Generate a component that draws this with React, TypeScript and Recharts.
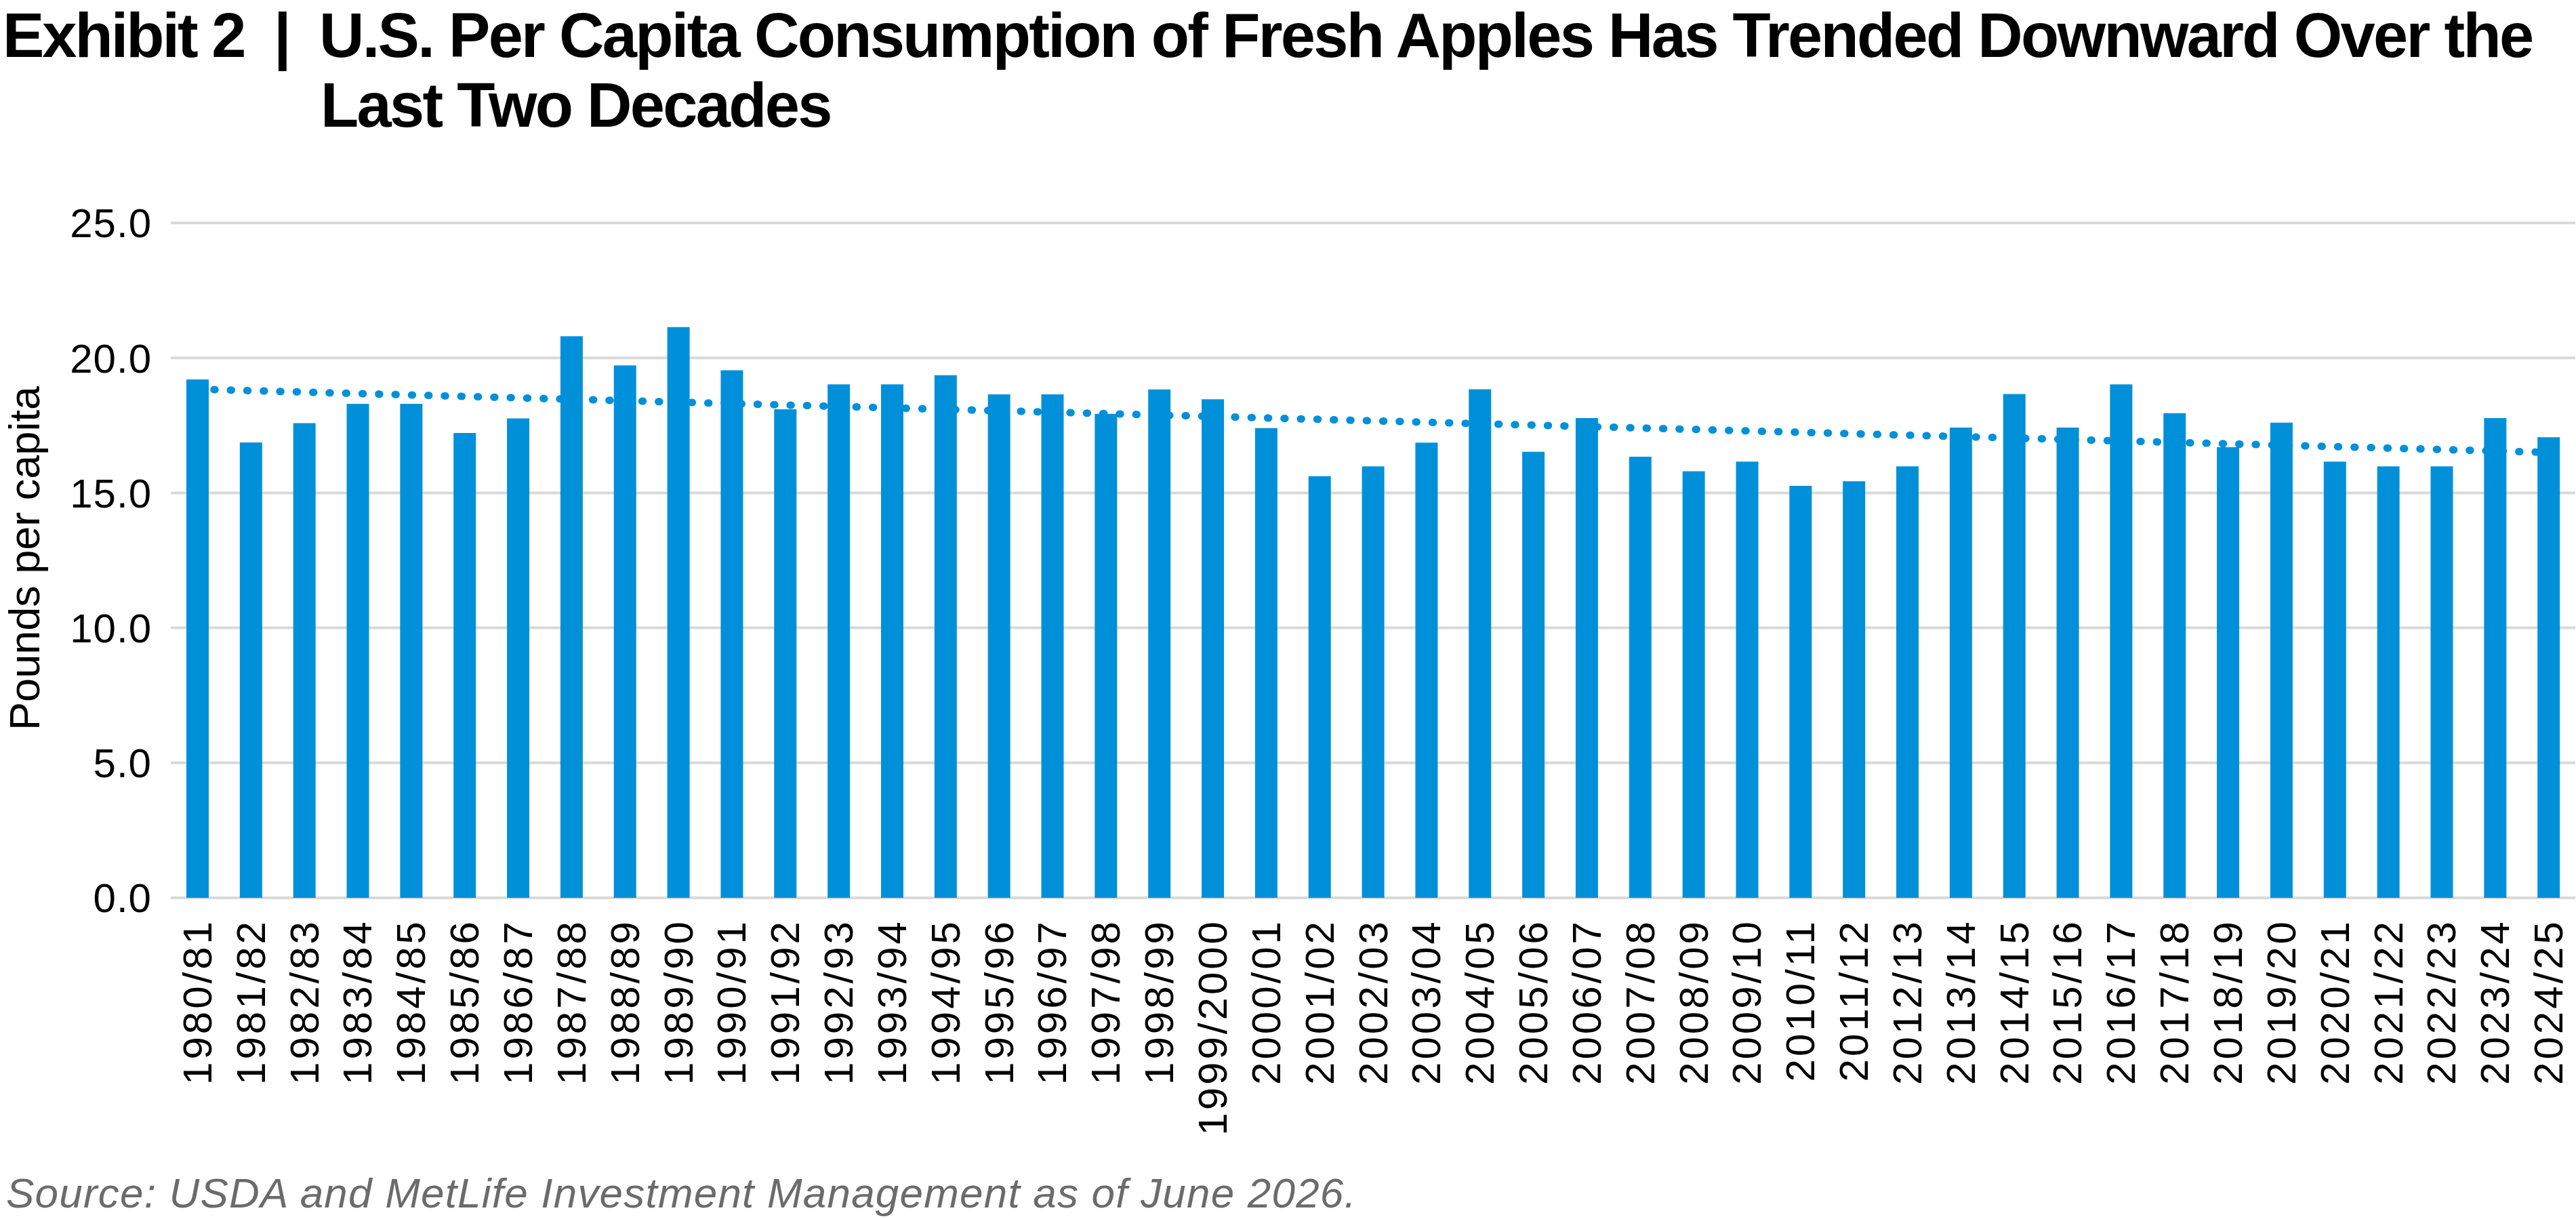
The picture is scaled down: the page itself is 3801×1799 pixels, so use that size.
import React from 'react';
import { BarChart, Bar, XAxis, YAxis, CartesianGrid, ReferenceLine } from 'recharts';

const FONT = '"Liberation Sans", Arial, Helvetica, sans-serif';

const categories = [
  '1980/81', '1981/82', '1982/83', '1983/84', '1984/85', '1985/86', '1986/87', '1987/88', '1988/89', '1989/90',
  '1990/91', '1991/92', '1992/93', '1993/94', '1994/95', '1995/96', '1996/97', '1997/98', '1998/99', '1999/2000',
  '2000/01', '2001/02', '2002/03', '2003/04', '2004/05', '2005/06', '2006/07', '2007/08', '2008/09', '2009/10',
  '2010/11', '2011/12', '2012/13', '2013/14', '2014/15', '2015/16', '2016/17', '2017/18', '2018/19', '2019/20',
  '2020/21', '2021/22', '2022/23', '2023/24', '2024/25',
];

const poundsPerCapita = [
  19.2, 16.87, 17.58, 18.3, 18.3, 17.22, 17.76, 20.8, 19.72, 21.14,
  19.54, 18.1, 19.02, 19.02, 19.36, 18.65, 18.65, 17.93, 18.83, 18.47,
  17.4, 15.62, 15.98, 16.86, 18.84, 16.52, 17.77, 16.34, 15.8, 16.16,
  15.26, 15.43, 15.98, 17.42, 18.66, 17.42, 19.02, 17.95, 16.69, 17.6,
  16.16, 15.98, 15.98, 17.77, 17.06,
];

// Linear trend: value at the first and last category
const trendStart = 18.84;
const trendEnd = 16.5;

const yTicks = [0, 5, 10, 15, 20, 25];

const data = categories.map((c, i) => ({ season: c, value: poundsPerCapita[i] }));

const XTick = (props: any) => {
  const { x, y, payload } = props;
  const ty = y + 31;
  return (
    <text
      x={x}
      y={ty}
      transform={`rotate(-90, ${x}, ${ty})`}
      textAnchor="end"
      dominantBaseline="central"
      fontSize={60}
      letterSpacing={4}
      fill="#000"
      fontFamily={FONT}
    >
      {payload.value}
    </text>
  );
};

const titleStyle: React.CSSProperties = {
  position: 'absolute',
  fontSize: 92,
  lineHeight: '103px',
  fontWeight: 700,
  whiteSpace: 'nowrap',
};

export default function App() {
  return (
    <div
      style={{
        position: 'absolute',
        left: 0,
        top: 0,
        width: 3801,
        height: 1799,
        background: '#fff',
        fontFamily: FONT,
        color: '#000',
        overflow: 'hidden',
      }}
    >
      <div style={{ position: 'absolute', left: 0, top: 0 }}>
        <BarChart
          width={3801}
          height={1799}
          data={data}
          margin={{ top: 329, right: 1, bottom: 174, left: 0 }}
        >
          <CartesianGrid vertical={false} stroke="#D9D9D9" strokeWidth={4} />
          <XAxis
            dataKey="season"
            interval={0}
            axisLine={false}
            tickLine={false}
            tickSize={0}
            tickMargin={0}
            height={300}
            tick={<XTick />}
          />
          <YAxis
            domain={[0, 25]}
            ticks={yTicks}
            width={252}
            axisLine={false}
            tickLine={false}
            tickSize={0}
            tickMargin={28}
            tickFormatter={(v: number) => v.toFixed(1)}
            tick={{ fontSize: 60, fill: '#000', fontFamily: FONT, letterSpacing: 1 }}
          />
          <Bar dataKey="value" fill="#0090DA" barSize={33} isAnimationActive={false} />
          <ReferenceLine
            segment={[
              { x: categories[0], y: trendStart },
              { x: categories[categories.length - 1], y: trendEnd },
            ]}
            stroke="#0090DA"
            strokeWidth={11}
            strokeLinecap="round"
            strokeDasharray="1.5 22.8"
            ifOverflow="visible"
          />
        </BarChart>
      </div>

      <svg
        width={3801}
        height={1799}
        style={{ position: 'absolute', left: 0, top: 0, pointerEvents: 'none' }}
      >
        <text
          x={58}
          y={824}
          transform="rotate(-90, 58, 824)"
          textAnchor="middle"
          fontSize={63}
          fill="#000"
          fontFamily={FONT}
        >
          Pounds per capita
        </text>
      </svg>

      <div style={{ ...titleStyle, left: 4, top: 1, letterSpacing: -3 }}>Exhibit 2</div>
      <div style={{ ...titleStyle, left: 404, top: 1 }}>|</div>
      <div style={{ ...titleStyle, left: 471, top: 1, letterSpacing: -2.7 }}>
        U.S. Per Capita Consumption of Fresh Apples Has Trended Downward Over the
      </div>
      <div style={{ ...titleStyle, left: 473, top: 104, letterSpacing: -2.7 }}>
        Last Two Decades
      </div>

      <div
        style={{
          position: 'absolute',
          left: 9,
          top: 1730,
          fontSize: 62,
          lineHeight: '62px',
          fontStyle: 'italic',
          letterSpacing: 1.2,
          color: '#6B6B6B',
          whiteSpace: 'nowrap',
        }}
      >
        Source: USDA and MetLife Investment Management as of June 2026.
      </div>
    </div>
  );
}
